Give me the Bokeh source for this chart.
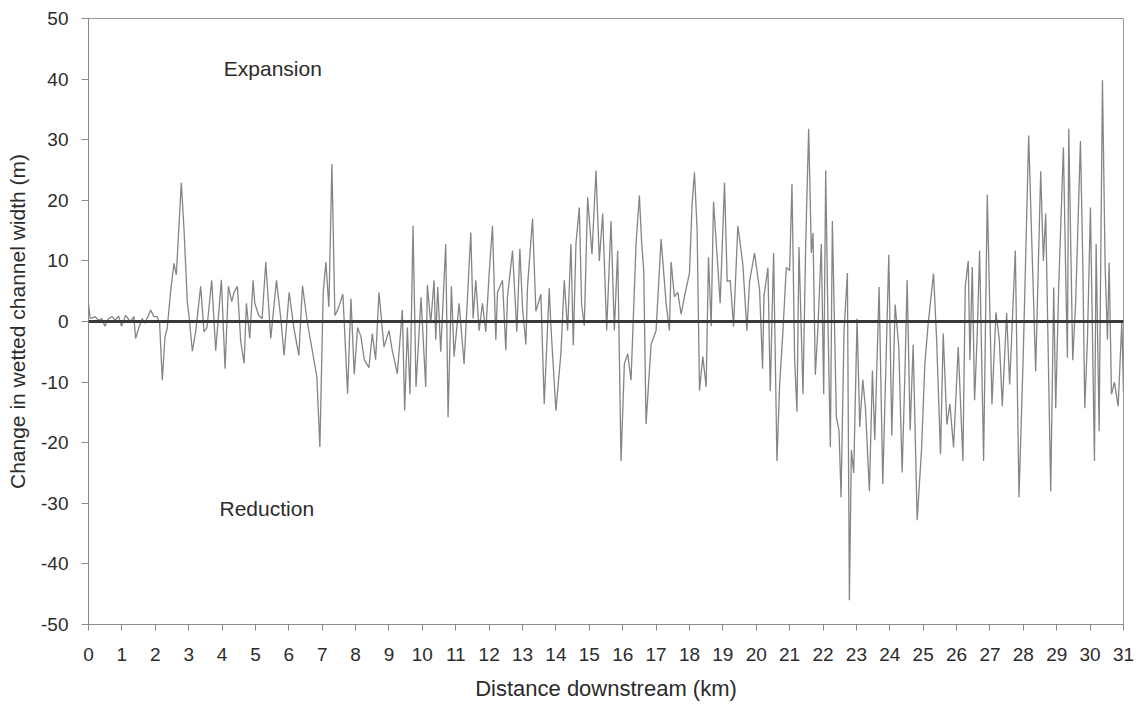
from bokeh.plotting import figure
from bokeh.models import Range1d, FixedTicker, Span, Label, PrintfTickFormatter
from bokeh.embed import file_html
from bokeh.resources import INLINE

# Distance downstream (km) and change in wetted channel width (m)
distance_km = [
    0.00, 0.05, 0.11, 0.20, 0.30, 0.40, 0.49, 0.60, 0.71, 0.80, 0.90, 0.99,
    1.11, 1.25, 1.36, 1.41, 1.51, 1.61, 1.68, 1.78, 1.86, 1.96, 2.06, 2.13,
    2.21, 2.29, 2.36, 2.46, 2.56, 2.63, 2.78, 2.86, 2.96, 3.01, 3.11, 3.21,
    3.36, 3.46, 3.55, 3.69, 3.81, 3.98, 4.09, 4.19, 4.29, 4.36, 4.46, 4.56,
    4.66, 4.73, 4.83, 4.93, 4.98, 5.10, 5.20, 5.31, 5.46, 5.63, 5.76, 5.86,
    6.01, 6.15, 6.30, 6.41, 6.55, 6.71, 6.84, 6.93, 7.03, 7.11, 7.20, 7.29,
    7.38, 7.47, 7.62, 7.76, 7.86, 7.96, 8.06, 8.16, 8.26, 8.40, 8.50, 8.60,
    8.70, 8.85, 9.00, 9.10, 9.25, 9.40, 9.47, 9.55, 9.63, 9.72, 9.81, 9.96,
    10.10, 10.15, 10.25, 10.35, 10.40, 10.46, 10.55, 10.70, 10.77, 10.87, 10.95,
    11.10, 11.25, 11.45, 11.52, 11.60, 11.70, 11.80, 11.90, 12.00, 12.10, 12.20,
    12.25, 12.40, 12.50, 12.55, 12.70, 12.83, 12.92, 13.00, 13.10, 13.15, 13.30,
    13.40, 13.55, 13.65, 13.80, 13.85, 14.00, 14.15, 14.25, 14.35, 14.45, 14.52,
    14.60, 14.70, 14.77, 14.85, 14.95, 15.08, 15.20, 15.30, 15.40, 15.52, 15.65,
    15.75, 15.85, 15.95, 16.05, 16.15, 16.25, 16.40, 16.50, 16.57, 16.63, 16.70,
    16.85, 17.00, 17.15, 17.30, 17.40, 17.45, 17.55, 17.65, 17.75, 17.85, 18.00,
    18.08, 18.15, 18.23, 18.30, 18.40, 18.50, 18.57, 18.65, 18.72, 18.83, 18.92,
    19.05, 19.13, 19.22, 19.32, 19.45, 19.60, 19.72, 19.80, 19.95, 20.10, 20.19,
    20.23, 20.35, 20.42, 20.52, 20.62, 20.70, 20.80, 20.90, 21.00, 21.07, 21.15,
    21.22, 21.28, 21.40, 21.48, 21.57, 21.65, 21.70, 21.77, 21.85, 21.95, 22.02,
    22.08, 22.15, 22.22, 22.28, 22.40, 22.48, 22.54, 22.63, 22.73, 22.79, 22.85,
    22.92, 23.02, 23.10, 23.19, 23.27, 23.39, 23.48, 23.55, 23.68, 23.79, 23.88,
    23.97, 24.06, 24.16, 24.27, 24.37, 24.45, 24.52, 24.61, 24.70, 24.82, 24.95,
    25.05, 25.15, 25.31, 25.40, 25.52, 25.60, 25.71, 25.80, 25.91, 26.05, 26.19,
    26.26, 26.35, 26.40, 26.47, 26.54, 26.62, 26.69, 26.81, 26.92, 27.06, 27.18,
    27.28, 27.37, 27.50, 27.59, 27.76, 27.87, 28.00, 28.16, 28.24, 28.37, 28.52,
    28.60, 28.67, 28.82, 28.91, 28.97, 29.06, 29.20, 29.28, 29.32, 29.36, 29.48,
    29.57, 29.71, 29.78, 29.84, 29.92, 30.01, 30.13, 30.18, 30.27, 30.37, 30.45,
    30.52, 30.57, 30.64, 30.73, 30.84, 30.95, 31.00,
]
width_change_m = [
    3.0, 0.5, 0.6, 0.8, 0.2, 0.5, -0.8, 0.5, 0.8, 0.2, 0.9, -0.8,
    1.0, 0.0, 0.8, -2.8, -1.0, 0.5, -0.3, 0.8, 1.9, 0.8, 0.8, -0.3,
    -9.7, -2.6, -1.0, 5.0, 9.6, 7.7, 22.9, 15.3, 3.2, 1.0, -4.9, -1.7,
    5.8, -1.7, -1.0, 6.8, -4.8, 6.9, -7.8, 5.8, 3.3, 4.8, 5.8, -3.3,
    -6.9, 3.0, -2.8, 6.8, 3.0, 1.0, 0.5, 9.8, -2.8, 6.8, 0.5, -5.6,
    4.8, -1.0, -5.6, 5.9, 0.0, -5.0, -9.2, -20.7, 4.8, 9.8, 2.4, 26.0,
    1.0, 2.0, 4.5, -11.9, 3.8, -8.7, -1.0, -2.5, -6.3, -7.6, -2.0, -6.3,
    4.8, -4.2, -1.5, -4.8, -8.6, 1.9, -14.7, -1.0, -12.0, 15.8, -10.8, 4.0,
    -10.8, 6.0, -0.3, 6.8, -3.0, 5.7, -5.0, 12.8, -15.8, 5.8, -5.8,
    3.0, -7.0, 14.7, 0.5, 6.8, -1.5, 3.0, -1.7, 7.9, 15.8, -3.0,
    4.8, 6.8, -4.8, 4.1, 11.7, -1.7, 12.0, 2.3, -3.8, 5.8, 17.0,
    1.7, 4.5, -13.6, 5.5, -0.8, -14.7, -5.2, 6.8, -1.5, 12.8, -3.9,
    12.8, 18.8, 2.8, -0.7, 20.5, 11.1, 24.9, 10.0, 17.8, -1.5, 16.6,
    -1.5, 11.7, -23.0, -7.0, -5.3, -9.7, 12.8, 20.8, 12.8, 8.4, -16.9,
    -3.8, -1.5, 13.6, 3.0, -1.5, 9.8, 4.1, 4.8, 1.2, 4.1, 8.0,
    19.5, 24.6, 14.9, -11.4, -5.8, -10.8, 10.6, -0.8, 19.8, 10.6, 3.0,
    22.9, 6.6, 6.8, -0.8, 15.8, 9.4, -1.5, 6.6, 11.3, 5.2, -7.8,
    4.1, 8.9, -11.5, 11.3, -23.0, -10.5, -1.5, 8.9, 8.4, 22.7, -6.4,
    -14.9, 12.3, -12.0, 12.3, 31.8, 11.3, 14.6, -8.8, -0.8, 12.8, -12.0,
    24.9, -0.8, -20.7, 16.6, -15.8, -18.0, -29.0, -1.5, 8.0, -46.0, -21.2,
    -25.0, 0.5, -17.4, -9.6, -14.2, -28.0, -8.1, -19.6, 5.7, -26.8, -8.1,
    11.0, -18.8, 2.8, -4.2, -24.9, -9.2, 6.8, -18.0, -3.8, -32.8, -21.2,
    -7.0, -0.3, 7.9, -2.6, -21.9, -2.0, -17.0, -13.6, -20.8, -4.2, -23.0,
    5.8, 10.0, -6.4, 9.0, -13.0, -2.0, 11.7, -23.0, 20.9, -13.7, 1.5,
    -3.0, -14.0, 1.4, -10.4, 11.7, -29.0, -5.0, 30.7, 15.6, -8.2, 24.8,
    10.0, 17.8, -28.0, 5.6, -14.3, 5.9, 28.7, 4.6, -6.0, 31.8, -6.4,
    3.6, 29.8, 10.0, -14.3, -3.0, 18.8, -23.0, 12.8, -18.1, 39.8, 9.0,
    -3.0, 9.7, -12.0, -10.0, -14.0, 0.0, -11.8,
]

x_ticks = list(range(0, 32))
y_ticks = list(range(-50, 51, 10))

FONT = "Liberation Sans"
TEXT = "#2b2b2b"

p = figure(width=1135, height=707, output_backend="svg", toolbar_location=None,
           x_range=Range1d(0, 31), y_range=Range1d(-50, 50),
           min_border_left=88, min_border_right=12, min_border_top=18,
           min_border_bottom=83)
p.grid.visible = False
p.background_fill_color = "white"
p.border_fill_color = "white"
p.outline_line_color = "#9a9a9a"
p.outline_line_width = 1

p.line(distance_km, width_change_m, line_color="#858585", line_width=1.3)
p.add_layout(Span(location=0, dimension="width", line_color="#383838", line_width=3))

for ax in (p.xaxis[0], p.yaxis[0]):
    ax.axis_line_color = "#8a8a8a"
    ax.major_tick_line_color = "#8a8a8a"
    ax.minor_tick_line_color = None
    ax.major_tick_in = 0
    ax.major_label_text_font = FONT
    ax.major_label_text_font_size = "19px"
    ax.major_label_text_color = TEXT
    ax.axis_label_text_font = FONT
    ax.axis_label_text_font_size = "21px"
    ax.axis_label_text_font_style = "normal"
    ax.axis_label_text_color = TEXT

p.xaxis.ticker = FixedTicker(ticks=x_ticks)
p.yaxis.ticker = FixedTicker(ticks=y_ticks)
p.yaxis.formatter = PrintfTickFormatter(format="%d")
p.xaxis.major_tick_out = 6
p.yaxis.major_tick_out = 7
p.xaxis.major_label_standoff = 17
p.yaxis.major_label_standoff = 13
p.xaxis.axis_label = "Distance downstream (km)"
p.xaxis.axis_label_text_font_size = "22px"
p.yaxis.axis_label = "Change in wetted channel width (m)"
p.xaxis.axis_label_standoff = 12
p.yaxis.axis_label_standoff = 9

p.add_layout(Label(x=5.52, y=41.7, text="Expansion", text_align="center",
                   text_baseline="middle", text_font=FONT,
                   text_font_size="21px", text_color=TEXT))
p.add_layout(Label(x=5.34, y=-30.9, text="Reduction", text_align="center",
                   text_baseline="middle", text_font=FONT,
                   text_font_size="21px", text_color=TEXT))

open("out.html", "w").write(file_html(p, INLINE))
